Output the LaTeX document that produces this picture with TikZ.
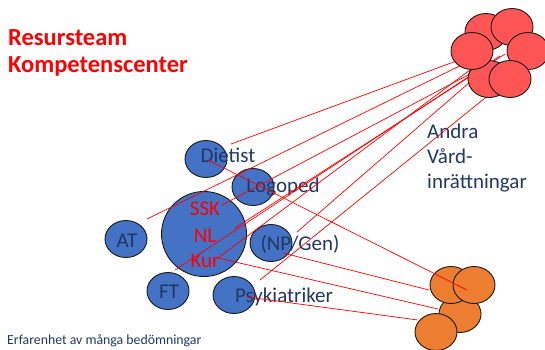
\documentclass[tikz,border=0pt]{standalone}
\usepackage{fontspec}
\setmainfont{Carlito}
\usetikzlibrary{shapes.geometric}
\definecolor{navy}{HTML}{1F3864}
\definecolor{bluefill}{HTML}{4472C4}
\definecolor{redfill}{HTML}{FF5555}
\definecolor{orangefill}{HTML}{ED7D31}
\definecolor{edgec}{HTML}{1A1A1A}
\begin{document}
\begin{tikzpicture}[x=1pt,y=-1pt,
  blob/.style={ellipse, draw=edgec, line width=0.9pt, minimum width=42pt, minimum height=37pt, inner sep=0pt},
  bluec/.style={blob, fill=bluefill},
  redc/.style={blob, fill=redfill},
  orc/.style={blob, fill=orangefill},
  link/.style={draw=red, line width=0.7pt},
  lbl/.style={font=\fontsize{21}{21}\selectfont, text=navy, inner sep=0pt, anchor=base},
  rlbl/.style={font=\fontsize{21}{21}\selectfont, text=red, inner sep=0pt, anchor=base},
  ttl/.style={anchor=base west, inner sep=0pt, text=red, font=\fontsize{24.5}{24.5}\selectfont\bfseries},
]
\useasboundingbox[fill=white] (0,0) rectangle (545,349);

% title
\node[ttl] (t1) at (8,45) {Resursteam};
\node[ttl] (t2) at (8,72) {Kompetenscenter};
\node[anchor=base west, inner sep=0pt, text=navy, font=\fontsize{13.8}{13.8}\selectfont] (foot) at (7,344) {Erfarenhet av många bedömningar};

% blue circles
\node[bluec] (diet) at (206,159) {};
\node[bluec] (logo) at (253,187) {};
\node[bluec, minimum width=85pt, minimum height=85pt] (ssk) at (204,234) {};
\node[bluec] (at) at (126,239) {};
\node[bluec] (np) at (271,243) {};
\node[bluec] (ft) at (168,291) {};
\node[bluec] (psy) at (234,295) {};

% orange circles
\node[orc] (o3) at (460,314) {};
\node[orc] (o1) at (451,285) {};
\node[orc] (o2) at (474,285) {};
\node[orc] (o4) at (436,332) {};

% labels
\node[lbl] (ldiet) at (228,162) {Dietist};
\node[lbl] (llogo) at (283,192) {Logoped};
\node[rlbl] (lssk) at (205,215) {SSK};
\node[rlbl] (lnl) at (205,242) {NL};
\node[rlbl] (lkur) at (205,267) {Kur};
\node[lbl] (lat) at (127,247) {AT};
\node[lbl] (lnp) at (300,250) {(NP/Gen)};
\node[lbl] (lft) at (169,298) {FT};
\node[lbl] (lpsy) at (284,302) {Psykiatriker};
\node[lbl, anchor=base west] (a1) at (427,138) {Andra};
\node[lbl, anchor=base west] (a2) at (427,163) {Vård-};
\node[lbl, anchor=base west] (a3) at (427,188) {inrättningar};

% line end points
\coordinate (s1) at (231,144);
\coordinate (s2) at (147,219);
\coordinate (s3) at (222,205);
\coordinate (s4) at (235,228);
\coordinate (s5) at (175,270);
\coordinate (s6) at (218,258);
\coordinate (s7) at (297,232);
\coordinate (s8) at (260,280);
\coordinate (e1) at (470,56);
\coordinate (e2) at (480,56);
\coordinate (e3) at (470,74);
\coordinate (e4) at (505,54);
\coordinate (e5) at (500,56);
\coordinate (e6) at (470,70);
\coordinate (e7) at (470,82);
\coordinate (e8) at (490,94);
\coordinate (d1) at (208,160);
\coordinate (d2) at (467,290);
\coordinate (n1) at (283,253);
\coordinate (n2) at (429,290);
\coordinate (k2) at (438,309);
\coordinate (p1) at (247,297);
\coordinate (p2) at (418,320);

% red lines to the other institutions
\draw[link] (s1) -- (e1);
\draw[link] (s2) -- (e2);
\draw[link] (s3) -- (e3);
\draw[link] (s4) -- (e4);
\draw[link] (s5) -- (e5);
\draw[link] (s6) -- (e6);
\draw[link] (s7) -- (e7);
\draw[link] (s8) -- (e8);

% red cluster
\node[redc] (r1) at (486,32) {};
\node[redc] (r2) at (512,27) {};
\node[redc] (r3) at (528,51) {};
\node[redc] (r5) at (489,79) {};
\node[redc] (r4) at (472,51) {};
\node[redc] (r6) at (510,79) {};

% lines to orange cluster
\draw[link] (d1) -- (d2);
\draw[link] (n1) -- (n2);
\draw[link] (s6) -- (k2);
\draw[link] (p1) -- (p2);
\end{tikzpicture}
\end{document}
